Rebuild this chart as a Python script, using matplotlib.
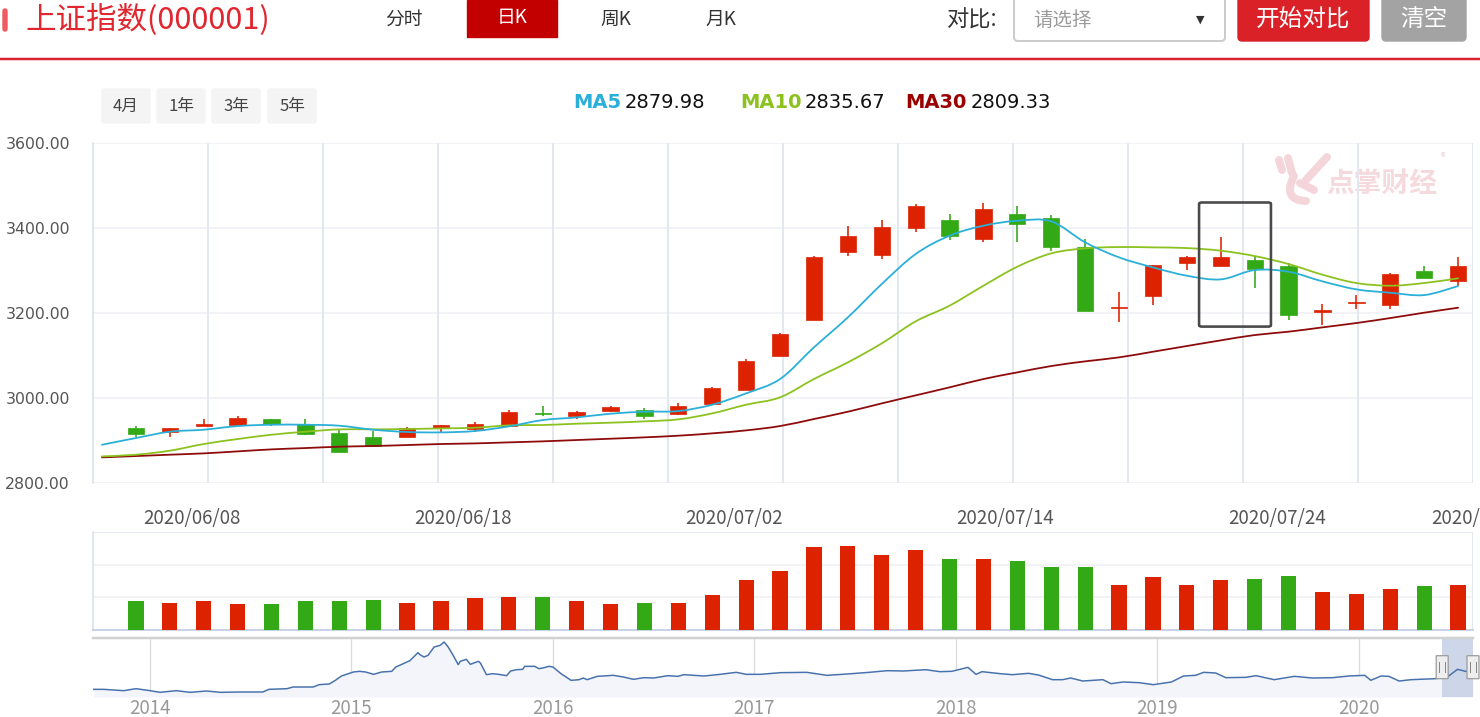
import matplotlib

matplotlib.use("Agg")

import matplotlib.pyplot as plt
from matplotlib.patches import FancyBboxPatch, PathPatch, Rectangle
from matplotlib.path import Path
import numpy as np

plt.rcParams["font.family"] = ["Noto Sans CJK SC", "DejaVu Sans"]

# ---- data ------------------------------------------------------------------
dates = [
    "2020/06/03", "2020/06/04", "2020/06/05", "2020/06/08", "2020/06/09", "2020/06/10",
    "2020/06/11", "2020/06/12", "2020/06/15", "2020/06/16", "2020/06/17", "2020/06/18",
    "2020/06/19", "2020/06/22", "2020/06/23", "2020/06/24", "2020/06/29", "2020/06/30",
    "2020/07/01", "2020/07/02", "2020/07/03", "2020/07/06", "2020/07/07", "2020/07/08",
    "2020/07/09", "2020/07/10", "2020/07/13", "2020/07/14", "2020/07/15", "2020/07/16",
    "2020/07/17", "2020/07/20", "2020/07/21", "2020/07/22", "2020/07/23", "2020/07/24",
    "2020/07/27", "2020/07/28", "2020/07/29", "2020/07/30", "2020/07/31",
]

# candles are drawn from the second date on (the first one sits under the window edge)
opens = [2929, 2919, 2933, 2936, 2950, 2939, 2918, 2908, 2909, 2929,
         2927, 2935, 2964, 2957, 2968.5, 2971.6, 2961.5, 2986, 3018, 3099,
         3183, 3343, 3336, 3399, 3419.5, 3374, 3434, 3423, 3356, 3212,
         3241, 3317.5, 3310.5, 3324, 3310, 3204, 3224, 3219.5, 3299.5, 3276]
closes = [2915, 2929, 2939.5, 2954, 2939.5, 2915, 2874, 2888, 2930, 2936,
          2939.5, 2968, 2963, 2968, 2978.7, 2957.5, 2982, 3024, 3088, 3151,
          3332, 3381, 3402, 3451.6, 3382, 3444, 3409, 3356, 3205, 3214,
          3313, 3331, 3331, 3304, 3195, 3206, 3226, 3292.4, 3283, 3310]
highs = [2933, 2930, 2950, 2957, 2950, 2950, 2928, 2922, 2931, 2937,
         2944, 2972, 2981, 2969, 2981, 2975.6, 2989, 3025, 3092, 3152,
         3335, 3405, 3419.5, 3455.6, 3434, 3459.5, 3452, 3430, 3374, 3250,
         3313, 3334, 3380, 3334, 3317, 3222, 3243, 3293, 3310.5, 3332]
lows = [2909, 2909, 2933, 2934, 2934, 2912, 2873, 2887, 2909, 2921,
        2921, 2935, 2957, 2950, 2968, 2950.5, 2961, 2983, 3018, 3098,
        3183, 3335, 3328, 3391, 3371, 3367, 3368, 3346, 3205, 3180,
        3219.5, 3301, 3310, 3258, 3184, 3172, 3209, 3208.5, 3283, 3263]
volumes = [2.64, 2.48, 2.64, 2.37, 2.37, 2.64, 2.64, 2.76, 2.48, 2.64,
           2.92, 3.04, 3.04, 2.64, 2.37, 2.48, 2.48, 3.19, 4.57, 5.40,
           7.61, 7.73, 6.90, 7.33, 6.51, 6.51, 6.35, 5.80, 5.80, 4.14,
           4.85, 4.14, 4.57, 4.69, 4.97, 3.47, 3.31, 3.75, 4.02, 4.14]

ma5 = [2890, 2905.8, 2920.7, 2925.4, 2934, 2937.1, 2937.1, 2934.8, 2925.4, 2920,
       2919.1, 2922.3, 2933.2, 2948.1, 2954.4, 2963, 2967.7, 2969.3, 2984.2, 3010.9,
       3044.6, 3119.1, 3189.7, 3268.1, 3338.7, 3381.8, 3405.4, 3417.1, 3415.6, 3366.2,
       3330.9, 3307.3, 3287.7, 3279.1, 3301, 3297.1, 3274.4, 3255.6, 3247.7, 3242.2, 3263.4]
ma10 = [2862.6, 2866.6, 2876, 2891.7, 2903.4, 2913.6, 2920.7, 2926.2, 2926.2, 2927,
        2928.5, 2930.1, 2935.6, 2936.4, 2939.5, 2941.9, 2945, 2949.7, 2963.8, 2984.2,
        3001.5, 3044.6, 3083.8, 3128.5, 3180.3, 3217.2, 3264.2, 3308.9, 3340.3, 3352.1,
        3355.2, 3354.4, 3352.8, 3346.6, 3334, 3315.2, 3290.1, 3270.5, 3264.2, 3270.5, 3281.5]
ma30 = [2860.3, 2863.4, 2866.6, 2869.7, 2874.4, 2879.1, 2882.2, 2885.4, 2887, 2889.3,
        2891.7, 2893.2, 2895.6, 2898, 2901.1, 2904.2, 2907.4, 2911.3, 2916.8, 2923.8,
        2934, 2950.5, 2967.7, 2987.3, 3006.2, 3025, 3044.6, 3060.3, 3075.2, 3086.2,
        3095.6, 3108.9, 3122.3, 3135.6, 3148.1, 3156, 3166.2, 3176.4, 3188.1, 3200.7, 3212.4]
legend_values = ["2879.98", "2835.67", "2809.33"]

date_labels = ["2020/06/08", "2020/06/18", "2020/07/02", "2020/07/14", "2020/07/24", "2020/08/03"]
date_label_idx = [3, 11, 19, 27, 35, 41]

highlight_idx = [33, 34]
highlight_price = [3168, 3460]

nav_years = [2013.72, 2013.77, 2013.87, 2013.93, 2014.00, 2014.05, 2014.13, 2014.20, 2014.28,
             2014.35, 2014.45, 2014.56, 2014.59, 2014.68, 2014.71, 2014.81, 2014.84, 2014.89,
             2014.92, 2014.95, 2015.01, 2015.04, 2015.07, 2015.11, 2015.15, 2015.20, 2015.22,
             2015.25, 2015.29, 2015.33, 2015.34, 2015.36, 2015.38, 2015.41, 2015.44, 2015.46,
             2015.48, 2015.50, 2015.53, 2015.54, 2015.57, 2015.59, 2015.63, 2015.64, 2015.67,
             2015.70, 2015.73, 2015.77, 2015.79, 2015.82, 2015.85, 2015.86, 2015.91, 2015.93,
             2015.95, 2015.98, 2016.00, 2016.04, 2016.09, 2016.13, 2016.15, 2016.17, 2016.22,
             2016.30, 2016.35, 2016.40, 2016.45, 2016.50, 2016.57, 2016.62, 2016.65, 2016.75,
             2016.83, 2016.91, 2016.96, 2017.03, 2017.13, 2017.26, 2017.36, 2017.46, 2017.57,
             2017.66, 2017.74, 2017.85, 2017.92, 2017.98, 2018.06, 2018.10, 2018.13, 2018.22,
             2018.28, 2018.36, 2018.41, 2018.48, 2018.53, 2018.57, 2018.63, 2018.73, 2018.77,
             2018.83, 2018.91, 2018.98, 2019.07, 2019.13, 2019.19, 2019.23, 2019.29, 2019.34,
             2019.44, 2019.49, 2019.58, 2019.68, 2019.77, 2019.87, 2019.95, 2020.03, 2020.06,
             2020.11, 2020.15, 2020.20, 2020.26, 2020.38, 2020.44, 2020.49, 2020.53, 2020.567]
nav_values = [2200, 2200, 2116, 2242, 2116, 2012, 2116, 2012, 2095,
              2012, 2033, 2033, 2200, 2242, 2347, 2347, 2494, 2536,
              2766, 3039, 3291, 3333, 3291, 3144, 3291, 3333, 3605,
              3773, 4004, 4507, 4381, 4234, 4339, 4863, 4968, 5178,
              4863, 4444, 3752, 3962, 4088, 3773, 3962, 3857, 3123,
              3186, 3144, 3060, 3354, 3437, 3458, 3647, 3647, 3500,
              3542, 3647, 3605, 3186, 2766, 2808, 2913, 2808, 3018,
              3081, 2976, 2829, 2934, 2913, 3060, 3018, 3123, 3039,
              3144, 3270, 3144, 3144, 3249, 3270, 3081, 3165, 3270,
              3375, 3354, 3437, 3312, 3333, 3584, 3144, 3312, 3186,
              3123, 3207, 3102, 2808, 2808, 2913, 2724, 2808, 2557,
              2662, 2620, 2494, 2662, 3039, 3081, 3270, 3228, 2934,
              2955, 3060, 2808, 3018, 2913, 2934, 3039, 3081, 2766,
              3039, 3018, 2724, 2808, 2871, 2976, 3458, 3333, 3310]
nav_year_ticks = [2014, 2015, 2016, 2017, 2018, 2019, 2020]
window_start = 2020.414

# ---- styling ----------------------------------------------------------------
RED, GREEN = "#dd2200", "#33a915"
C_MA5, C_MA10, C_MA30 = "#2ab0d8", "#8cc21f", "#8e0b0b"
GRID_H, GRID_V = "#eef0f4", "#e3e8f0"
LOGO = "#f4d6da"
W, H = 1480, 717
PT = 72 / 100  # points per pixel


def px_axes(x0, y0, x1, y1):
    return fig.add_axes([x0 / W, 1 - y1 / H, (x1 - x0) / W, (y1 - y0) / H])


def smooth_path(x, y):
    # draw the line through every point with cubic segments, like echarts smooth lines
    pts = np.column_stack([x, y]).astype(float)
    verts, codes = [pts[0]], [Path.MOVETO]
    for i in range(len(pts) - 1):
        p0 = pts[i - 1] if i > 0 else pts[i]
        p3 = pts[i + 2] if i + 2 < len(pts) else pts[i + 1]
        verts += [pts[i] + (pts[i + 1] - p0) / 6, pts[i + 1] - (p3 - pts[i]) / 6, pts[i + 1]]
        codes += [Path.CURVE4] * 3
    return Path(verts, codes)


fig = plt.figure(figsize=(W / 100, H / 100), dpi=100)
fig.patch.set_facecolor("white")

# pixel overlay for the page chrome
bg = fig.add_axes([0, 0, 1, 1])
bg.set_xlim(0, W)
bg.set_ylim(H, 0)
bg.axis("off")

bg.add_patch(FancyBboxPatch((3, 9), 4, 22, boxstyle="round,pad=0,rounding_size=2", color="#f05a62"))
bg.text(25, 20, "上证指数(000001)", fontsize=22, color="#e0262f", va="center", ha="left")
for label, cx in [("分时", 404), ("日K", 512), ("周K", 616), ("月K", 721)]:
    if label == "日K":
        bg.add_patch(Rectangle((467, 0), 90, 37, color="#c20000"))
        bg.text(cx, 18, label, fontsize=13.5, color="white", ha="center", va="center")
    else:
        bg.text(cx, 19, label, fontsize=13.5, color="#333333", ha="center", va="center")
bg.text(998, 20, "对比:", fontsize=16, color="#333333", ha="right", va="center")
bg.add_patch(FancyBboxPatch((1014, -4), 211, 45, boxstyle="round,pad=0,rounding_size=4",
                            facecolor="white", edgecolor="#cccccc", lw=2 * PT))
bg.text(1033, 20, "请选择", fontsize=14, color="#9a9a9a", ha="left", va="center")
bg.text(1200, 20, "▼", fontsize=8, color="#333333", ha="center", va="center", family="DejaVu Sans")
bg.add_patch(FancyBboxPatch((1238, -4), 131, 45, boxstyle="round,pad=0,rounding_size=4", color="#db2128"))
bg.text(1303, 20, "开始对比", fontsize=17, color="white", ha="center", va="center")
bg.add_patch(FancyBboxPatch((1382, -4), 84, 45, boxstyle="round,pad=0,rounding_size=4", color="#a3a3a3"))
bg.text(1424, 20, "清空", fontsize=17, color="white", ha="center", va="center")
bg.plot([0, W], [58.5, 58.5], color="#d9232e", lw=2.5 * PT)

for label, x0 in [("4月", 102), ("1年", 157), ("3年", 212), ("5年", 268)]:
    bg.add_patch(FancyBboxPatch((x0, 89), 48, 34, boxstyle="round,pad=0,rounding_size=2", color="#f4f4f4"))
    bg.text(x0 + 24, 106, label, fontsize=12, color="#444444", ha="center", va="center")

legend_items = [("MA5", C_MA5, 573, 625), ("MA10", C_MA10, 740, 805), ("MA30", "#9b0000", 905, 971)]
for (name, color, xn, xv), val in zip(legend_items, legend_values):
    bg.text(xn, 102, name, fontsize=14, color=color, fontweight="bold", ha="left", va="center",
            family="DejaVu Sans")
    bg.text(xv, 102, val, fontsize=14, color="#111111", ha="left", va="center", family="DejaVu Sans")

# watermark logo + name
for xs, ys in [([1279, 1282], [160, 170]), ([1288, 1292], [158, 173]),
               ([1327, 1306], [157, 180]), ([1300, 1314], [183, 190])]:
    bg.plot(xs, ys, color=LOGO, lw=8 * PT, solid_capstyle="round", zorder=0)
t = np.linspace(0, 1, 20)
bg.plot((1 - t) ** 2 * 1294 + 2 * t * (1 - t) * 1282 + t ** 2 * 1306,
        (1 - t) ** 2 * 176 + 2 * t * (1 - t) * 200 + t ** 2 * 201,
        color=LOGO, lw=8 * PT, solid_capstyle="round", zorder=0)
bg.text(1382, 184, "点掌财经", fontsize=20, fontweight="bold", color="#f5dadd",
        ha="center", va="center", zorder=0)
bg.text(1443, 158, "®", fontsize=7, color="#f0d0d4", ha="center", va="center", zorder=0)

# ---- main candlestick panel --------------------------------------------------
n = len(dates)
xi = np.arange(n)
xlim = (-0.265, 40.44)

ax = px_axes(93, 143, 1473, 483)
ax.set_facecolor("none")
ax.set_xlim(*xlim)
ax.set_ylim(2800, 3600)
for v in range(2800, 3601, 200):
    ax.axhline(v, color=GRID_H, lw=1.5 * PT, zorder=0)
for k in range(1, 13):
    ax.axvline(xlim[0] + k / 12 * (xlim[1] - xlim[0]), color=GRID_V, lw=2 * PT, zorder=0)
for s in ["top", "right", "bottom"]:
    ax.spines[s].set_visible(False)
ax.spines["left"].set_color("#d6dde9")
ax.spines["left"].set_linewidth(1.5 * PT)
ax.set_xticks([])
ax.set_yticks(range(2800, 3601, 200))
ax.set_yticklabels([f"{v:.2f}" for v in range(2800, 3601, 200)], family="DejaVu Sans",
                   fontsize=11.3, color="#555555")
ax.tick_params(axis="y", length=0, pad=23 * PT)

cx = xi[1:]
o, c, hi, lo = map(np.array, (opens, closes, highs, lows))
colors = [RED if cc >= oo else GREEN for oo, cc in zip(o, c)]
ax.vlines(cx, lo, hi, colors=colors, lw=1.6 * PT, zorder=3)
body_lo = np.minimum(o, c)
body_h = np.maximum(np.abs(c - o), 3.5)
ax.bar(cx, body_h, bottom=body_lo - (body_h - np.abs(c - o)) / 2, width=0.48, color=colors,
       edgecolor=colors, lw=0.5, zorder=4)

for series, col in [(ma30, C_MA30), (ma10, C_MA10), (ma5, C_MA5)]:
    ax.add_patch(PathPatch(smooth_path(xi, series), fill=False, edgecolor=col, lw=1.8 * PT,
                           zorder=5, capstyle="round"))

ax.add_patch(FancyBboxPatch((highlight_idx[0] - 0.64, highlight_price[0]),
                            highlight_idx[1] - highlight_idx[0] + 1.12,
                            highlight_price[1] - highlight_price[0],
                            boxstyle="round,pad=0,rounding_size=0.08", fill=False,
                            edgecolor="#4a4a4a", lw=2.6 * PT, zorder=6,
                            mutation_aspect=40))

# ---- volume panel ----------------------------------------------------------------
axv = px_axes(93, 532, 1473, 630)
axv.set_facecolor("none")
axv.set_xlim(*xlim)
axv.set_ylim(0, 9)
for v in (3, 6, 9):
    axv.axhline(v, color=GRID_H if v < 9 else "#dfe5ef", lw=1.5 * PT, zorder=0)
axv.axvline(xlim[1], color=GRID_V, lw=2 * PT, zorder=0)
for s in ["top", "right"]:
    axv.spines[s].set_visible(False)
axv.spines["left"].set_color("#d6dde9")
axv.spines["bottom"].set_color("#c9d3e6")
axv.spines["left"].set_linewidth(1.5 * PT)
axv.spines["bottom"].set_linewidth(2 * PT)
axv.set_yticks([])
axv.set_xticks([])
axv.bar(cx, volumes, width=0.45, color=colors, zorder=3)
for lab, idx in zip(date_labels, date_label_idx):
    axv.text(idx - 0.35, 1.03, lab, transform=axv.get_xaxis_transform(), fontsize=13.5,
             color="#555555", ha="center", va="bottom", clip_on=False)

# ---- navigator ----------------------------------------------------------------------
axn = px_axes(93, 638, 1473, 697)
axn.set_xlim(2013.717, 2020.567)
axn.set_ylim(1718, 5430)
axn.fill_between(nav_years, nav_values, 1718, color="#f3f5fa", lw=0, zorder=1)
axn.plot(nav_years, nav_values, color="#4771ad", lw=1.5 * PT, zorder=3)
for yr in nav_year_ticks:
    axn.axvline(yr, color="#dcdcdc", lw=1.3 * PT, zorder=0)
axn.axvspan(window_start, 2020.567, color="#c9d3e8", alpha=0.9, lw=0, zorder=2)
for s in ["left", "right", "bottom"]:
    axn.spines[s].set_visible(False)
axn.spines["top"].set_color("#d2d2d2")
axn.spines["top"].set_linewidth(2.5 * PT)
axn.set_yticks([])
axn.set_xticks(nav_year_ticks)
axn.set_xticklabels([str(y) for y in nav_year_ticks], fontsize=13.5, color="#999999")
axn.tick_params(axis="x", length=0, pad=1)
hw = 12 / 201.45
for hx in (window_start, 2020.567):
    axn.add_patch(FancyBboxPatch((hx - hw / 2, 0.31), hw, 0.39, boxstyle="round,pad=0,rounding_size=0.005",
                                 transform=axn.get_xaxis_transform(), facecolor="#eeeeee",
                                 edgecolor="#999999", lw=1.2 * PT, zorder=6, clip_on=False))
    for dx in (-0.25, 0.25):
        axn.plot([hx + dx * hw, hx + dx * hw], [0.42, 0.59], transform=axn.get_xaxis_transform(),
                 color="#888888", lw=1 * PT, zorder=7, clip_on=False)

fig.savefig("out.png", dpi=100)
